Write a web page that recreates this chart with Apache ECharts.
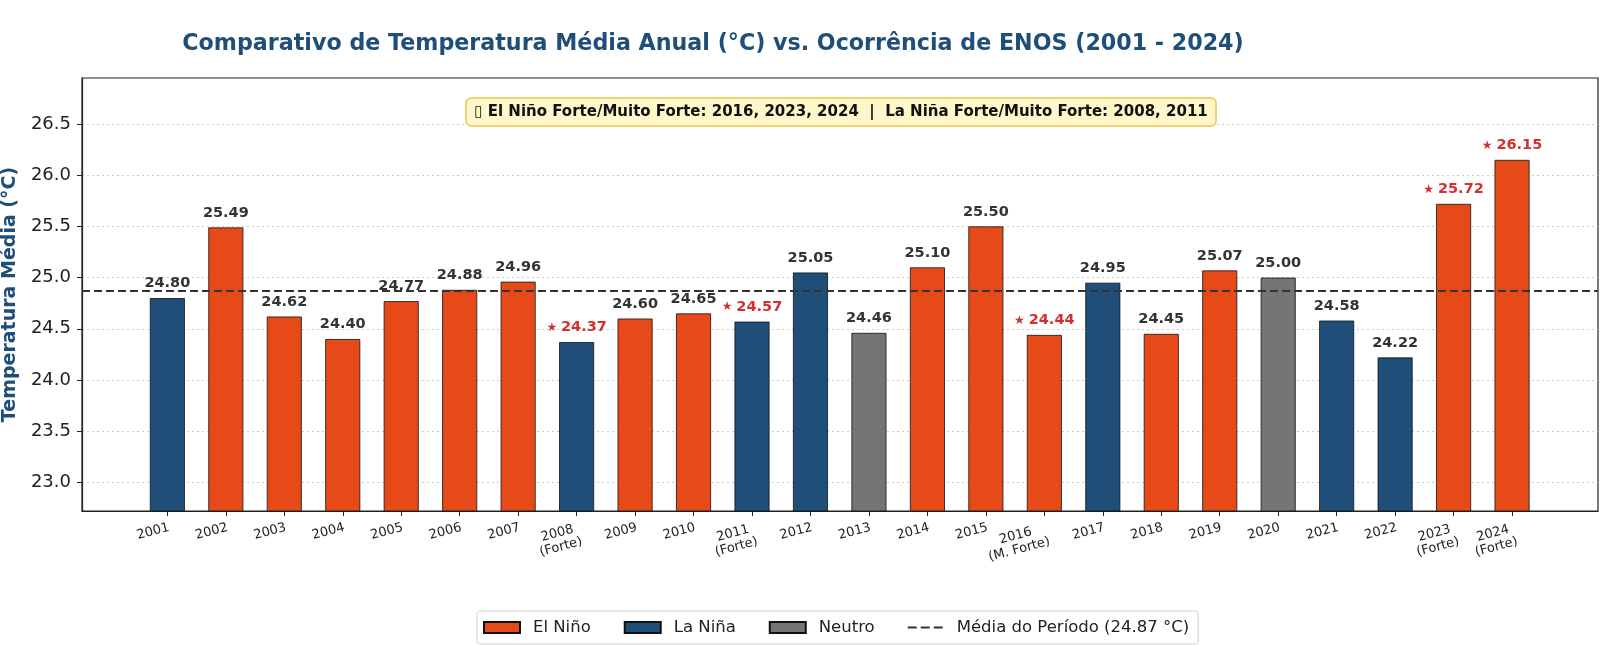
<!DOCTYPE html>
<html>
<head>
<meta charset="utf-8">
<script src="https://cdn.jsdelivr.net/npm/echarts@6/dist/echarts.min.js"></script>
<style>
  html, body { margin: 0; padding: 0; background: #fff; }
  #chart { width: 1600px; height: 645px; }
</style>
</head>
<body>
<div id="chart"></div>
<script>
// anos e temperaturas médias
const years = ['2001', '2002', '2003', '2004', '2005', '2006', '2007', '2008', '2009', '2010', '2011', '2012',
  '2013', '2014', '2015', '2016', '2017', '2018', '2019', '2020', '2021', '2022', '2023', '2024']
const temps = [24.80, 25.49, 24.62, 24.40, 24.77, 24.88, 24.96, 24.37, 24.60, 24.65, 24.57, 25.05,
  24.46, 25.10, 25.50, 24.44, 24.95, 24.45, 25.07, 25.00, 24.58, 24.22, 25.72, 26.15]
// fase do ENOS: EN = El Niño, LN = La Niña, N = Neutro
const phases = ['LN', 'EN', 'EN', 'EN', 'EN', 'EN', 'EN', 'LN', 'EN', 'EN', 'LN', 'LN',
  'N', 'EN', 'EN', 'EN', 'LN', 'EN', 'EN', 'N', 'LN', 'LN', 'EN', 'EN']
// intensidade (só anos fortes)
const strength = ['', '', '', '', '', '', '', 'Forte', '', '', 'Forte', '',
  '', '', '', 'M. Forte', '', '', '', '', '', '', 'Forte', 'Forte']
const yTicks = [23.0, 23.5, 24.0, 24.5, 25.0, 25.5, 26.0, 26.5]
const meanTemp = 24.87

const phaseInfo = [
  { key: 'EN', name: 'El Niño', color: '#e64a19' },
  { key: 'LN', name: 'La Niña', color: '#1f4e79' },
  { key: 'N', name: 'Neutro', color: '#757575' }
]

const xIdx = years.map((v, i) => i)
const meanName = 'Média do Período (' + meanTemp.toFixed(2) + ' °C)'

// rótulo em cima da barra
function barLabel(i) {
  if (strength[i]) {
    return { formatter: '{s|★} {r|' + temps[i].toFixed(2) + '}' }
  }
  return { formatter: '{n|' + temps[i].toFixed(2) + '}' }
}

const barSeries = phaseInfo.map(p => {
  return {
    name: p.name,
    type: 'bar',
    barWidth: 35,
    barGap: '-100%',
    itemStyle: {
      color: p.color,
      borderColor: '#111',
      borderWidth: 0.8
    },
    label: {
      show: true,
      position: 'top',
      distance: 7,
      fontFamily: 'DejaVu Sans',
      rich: {
        n: { fontSize: 14.5, fontWeight: 'bold', color: '#333', fontFamily: 'DejaVu Sans' },
        r: { fontSize: 14.5, fontWeight: 'bold', color: '#d32f2f', fontFamily: 'DejaVu Sans' },
        s: { fontSize: 12, color: '#d32f2f', fontFamily: 'DejaVu Sans' }
      }
    },
    data: xIdx.filter(i => phases[i] === p.key).map(i => {
      return { value: [i, temps[i]], label: barLabel(i) }
    })
  }
})

const myChart = echarts.init(document.querySelector('#chart'))

const option = {
  animation: false,
  textStyle: { fontFamily: 'DejaVu Sans' },
  title: [
    {
      text: 'Comparativo de Temperatura Média Anual (°C) vs. Ocorrência de ENOS (2001 - 2024)',
      left: 713,
      top: 33,
      textAlign: 'center',
      padding: 0,
      textStyle: { fontSize: 22.2, fontWeight: 'bold', color: '#1f4e79', fontFamily: 'DejaVu Sans' }
    },
    {
      text: '▯ El Niño Forte/Muito Forte: 2016, 2023, 2024  |  La Niña Forte/Muito Forte: 2008, 2011',
      left: 833,
      top: 98,
      textAlign: 'center',
      backgroundColor: '#fff6c9',
      borderColor: '#f0c84a',
      borderWidth: 1.5,
      borderRadius: 5,
      padding: [7, 8, 6, 8],
      textStyle: { fontSize: 15, fontWeight: 'bold', color: '#111', fontFamily: 'DejaVu Sans' }
    }
  ],
  legend: {
    bottom: 1,
    left: 477,
    orient: 'horizontal',
    itemWidth: 36,
    itemHeight: 11,
    itemGap: 33,
    borderColor: '#d0d0d0',
    borderWidth: 1,
    borderRadius: 3,
    padding: [8, 9, 8, 6],
    textStyle: { fontSize: 16.5, color: '#222', fontFamily: 'DejaVu Sans', padding: [0, 0, 0, 8] },
    data: [
      { name: 'El Niño', icon: 'rect' },
      { name: 'La Niña', icon: 'rect' },
      { name: 'Neutro', icon: 'rect' },
      // três traços, como a linha tracejada
      { name: meanName, icon: 'path://M0,0 M36,11 M0,4.6h9v1.8h-9z M13,4.6h9v1.8h-9z M26,4.6h9v1.8h-9z' }
    ]
  },
  grid: {
    left: 82,
    right: 2,
    top: 78,
    bottom: 134,
    outerBoundsMode: 'none',
    containLabel: false,
    show: true,
    borderColor: '#222',
    borderWidth: 1.2
  },
  xAxis: {
    type: 'value',
    min: -1.46,
    max: 24.47,
    axisLine: { onZero: false, lineStyle: { color: '#222', width: 1.2 } },
    axisTick: { show: true, length: 5, customValues: xIdx, lineStyle: { color: '#222' } },
    splitLine: { show: false },
    axisLabel: {
      customValues: xIdx,
      rotate: 15,
      margin: 10,
      fontSize: 13,
      color: '#222',
      align: 'right',
      verticalAlign: 'top',
      formatter: function (v) {
        const i = Math.round(v)
        if (strength[i]) return '{a|' + years[i] + '}\n{a|(' + strength[i] + ')}'
        return years[i]
      },
      rich: {
        a: { fontSize: 13, color: '#222', align: 'center', lineHeight: 14, fontFamily: 'DejaVu Sans' }
      }
    }
  },
  yAxis: {
    type: 'value',
    min: 22.72,
    max: 26.95,
    name: 'Temperatura Média (°C)',
    nameLocation: 'middle',
    nameGap: 62,
    nameTextStyle: { fontSize: 19, fontWeight: 'bold', color: '#1f4e79', fontFamily: 'DejaVu Sans' },
    axisLine: { show: true, onZero: false, lineStyle: { color: '#222', width: 1.2 } },
    axisTick: { show: true, length: 5, customValues: yTicks, lineStyle: { color: '#222' } },
    axisLabel: {
      customValues: yTicks,
      fontSize: 18,
      color: '#222',
      margin: 11,
      formatter: v => v.toFixed(1)
    },
    splitLine: { show: true, lineStyle: { color: '#ccc', type: [2, 3], width: 1 } }
  },
  series: barSeries.concat([
    {
      name: meanName,
      type: 'line',
      symbol: 'none',
      data: [],
      lineStyle: { color: '#333', type: 'dashed', width: 1.8 },
      itemStyle: { color: '#333' },
      markLine: {
        silent: true,
        symbol: 'none',
        label: { show: false },
        lineStyle: { color: '#333', type: [8, 4], width: 1.8 },
        data: [{ yAxis: meanTemp }]
      }
    }
  ])
}

myChart.setOption(option)
</script>
</body>
</html>
